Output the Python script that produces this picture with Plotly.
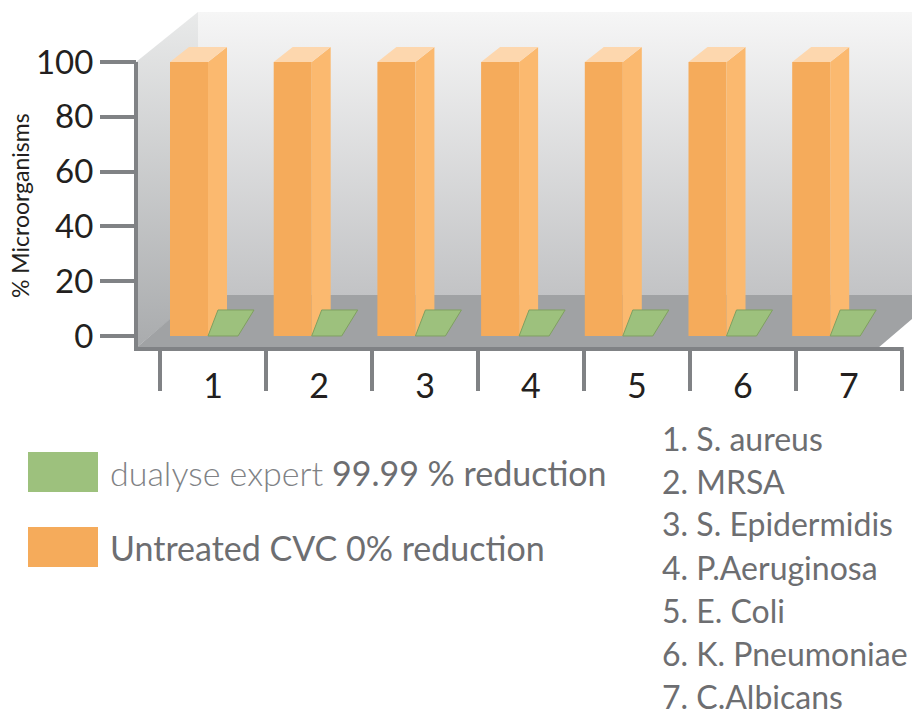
import numpy as np
import plotly.graph_objects as go

# ---------------- data ----------------
categories = ["1", "2", "3", "4", "5", "6", "7"]
organisms = ["1. S. aureus", "2. MRSA", "3. S. Epidermidis", "4. P.Aeruginosa",
             "5. E. Coli", "6. K. Pneumoniae", "7. C.Albicans"]
untreated = [100, 100, 100, 100, 100, 100, 100]
dualyse = [0.01, 0.01, 0.01, 0.01, 0.01, 0.01, 0.01]
y_ticks = [0, 20, 40, 60, 80, 100]
y_title = "% Microorganisms"

# ---------------- style / geometry ----------------
W, H = 912, 715
X_C1, X_STEP = 189.0, 103.7      # px of category 1 (bar centre) and px per category
Y_ZERO, Y_UNIT = 336.0, 2.74      # px of value 0 and px per unit
B0, B_STEP = 160.2, 105.93        # px of first divider and divider spacing (label axis)

ORANGE_FRONT = "#f5ab5b"
ORANGE_SIDE = "#fbb96f"
ORANGE_TOP = "#fdd7ae"
GREEN = "#9dc17d"
GREEN_EDGE = "#7fa060"
AXIS_GREY = "#808285"
TEXT_DARK = "#231f20"
TEXT_GREY = "#6d6e71"
FONT = "Lato, 'Open Sans', sans-serif"


def xd(px):
    return (px - X_C1) / X_STEP + 1


def yd(py):
    return (Y_ZERO - py) / Y_UNIT


def xp(px):
    return px / W


def yp(py):
    return (H - py) / H


def t2(px):
    return (px - B0) / B_STEP + 0.5


pos = np.arange(1, len(categories) + 1)

W_O = 38 / X_STEP          # orange bar width (data units)
DX_O, DY_O = 19 / X_STEP, 15 / Y_UNIT
W_G = 30 / X_STEP
DXL_G, DXR_G, DY_G = 10 / X_STEP, 16 / X_STEP, 26 / Y_UNIT

fig = go.Figure()


def poly(pxs, pys, colorscale=None, color=None):
    kw = dict(x=[xd(p) for p in pxs] + [xd(pxs[0])],
              y=[yd(p) for p in pys] + [yd(pys[0])],
              mode="lines", fill="toself", line=dict(width=0),
              hoverinfo="skip", showlegend=False)
    if colorscale:
        kw["fillgradient"] = dict(type="vertical", colorscale=colorscale)
    else:
        kw["fillcolor"] = color
    fig.add_trace(go.Scatter(**kw))


# back wall, side wall, floor
poly([198, 925, 925, 198], [12, 12, 296, 296], colorscale=[[0, "#c2c3c5"], [1, "#f6f6f6"]])
poly([136, 198, 198, 136], [62, 12, 296, 348], colorscale=[[0, "#a9abad"], [1, "#e9eaea"]])
poly([136, 198, 925, 925, 878], [348, 295, 295, 308, 348], color="#a0a2a4")

# orange bars: front, side and top faces built from the values
fx, fy, sx, sy, tx, ty = [], [], [], [], [], []
for p, v in zip(pos, untreated):
    xl, xr = p - W_O / 2, p + W_O / 2
    fx += [xl, xl, xr, xr, xl, None]
    fy += [0, v, v, 0, 0, None]
    sx += [xr, xr, xr + DX_O, xr + DX_O, xr, None]
    sy += [0, v, v + DY_O, DY_O, 0, None]
    tx += [xl, xl + DX_O, xr + DX_O, xr, xl, None]
    ty += [v, v + DY_O, v + DY_O, v, v, None]
for xs, ys, col in ((fx, fy, ORANGE_FRONT), (sx, sy, ORANGE_SIDE), (tx, ty, ORANGE_TOP)):
    fig.add_trace(go.Scatter(x=xs, y=ys, mode="lines", fill="toself", fillcolor=col,
                             line=dict(width=0), hoverinfo="skip", showlegend=False))

# green (near-zero) bars, only their top faces show
gx, gy = [], []
for p, v in zip(pos, dualyse):
    xl = p + W_O / 2
    gx += [xl, xl + W_G, xl + W_G + DXR_G, xl + DXL_G, xl, None]
    gy += [v, v, v + DY_G, v + DY_G, v, None]
fig.add_trace(go.Scatter(x=gx, y=gy, mode="lines", fill="toself", fillcolor=GREEN,
                         line=dict(width=1, color=GREEN_EDGE), hoverinfo="skip",
                         showlegend=False))

# dummy on the label axis so it renders
fig.add_trace(go.Scatter(x=[1], y=[0], xaxis="x2", mode="markers",
                         marker=dict(opacity=0), hoverinfo="skip", showlegend=False))

shapes = [
    dict(type="line", xref="paper", yref="paper", x0=xp(136), x1=xp(136), y0=yp(62), y1=yp(350),
         line=dict(color=AXIS_GREY, width=4)),
    dict(type="line", xref="paper", yref="paper", x0=xp(134), x1=xp(B0 + 7 * B_STEP + 2),
         y0=yp(349), y1=yp(349), line=dict(color=AXIS_GREY, width=4)),
    dict(type="rect", xref="paper", yref="paper", x0=xp(28), x1=xp(98), y0=yp(452), y1=yp(492),
         fillcolor=GREEN, line=dict(width=0)),
    dict(type="rect", xref="paper", yref="paper", x0=xp(28), x1=xp(98), y0=yp(527), y1=yp(567),
         fillcolor=ORANGE_FRONT, line=dict(width=0)),
]

annotations = [
    dict(text=y_title, xref="paper", yref="paper", x=xp(20), y=yp(206), textangle=-90,
         xanchor="center", yanchor="middle",
         showarrow=False, font=dict(size=23, color=TEXT_DARK, family=FONT)),
    dict(text="<span style='font-weight:300;color:#808285'>dualyse expert</span> 99.99 % reduction",
         xref="paper", yref="paper", x=xp(108), y=yp(472), xanchor="left", yanchor="middle",
         showarrow=False, font=dict(size=34, color=TEXT_GREY, family=FONT)),
    dict(text="Untreated CVC 0% reduction",
         xref="paper", yref="paper", x=xp(108), y=yp(547), xanchor="left", yanchor="middle",
         showarrow=False, font=dict(size=34, color=TEXT_GREY, family=FONT)),
]
for i, name in enumerate(organisms):
    annotations.append(dict(text=name, xref="paper", yref="paper", x=xp(660), y=yp(438 + 43 * i),
                            xanchor="left", yanchor="middle", showarrow=False,
                            font=dict(size=32, color=TEXT_GREY, family=FONT)))

boundaries = list(np.arange(0.5, len(categories) + 1, 1.0))

fig.update_layout(
    width=W, height=H, margin=dict(l=0, r=0, t=0, b=0),
    paper_bgcolor="white", plot_bgcolor="white",
    showlegend=False, hovermode=False, font=dict(family=FONT),
    xaxis=dict(range=[xd(0), xd(W)], showgrid=False, zeroline=False, showline=False,
               showticklabels=False, ticks="", fixedrange=True),
    xaxis2=dict(overlaying="x", anchor="free", position=yp(349), range=[t2(0), t2(W)],
                tickmode="array", tickvals=list(pos), ticktext=categories,
                ticks="outside", ticklen=7, tickcolor="rgba(0,0,0,0)",
                tickfont=dict(size=34, color=TEXT_DARK, family=FONT),
                minor=dict(tickmode="array", tickvals=boundaries, ticks="outside",
                           ticklen=41, tickwidth=4, tickcolor=AXIS_GREY, showgrid=False),
                showgrid=False, zeroline=False, showline=False, fixedrange=True),
    yaxis=dict(range=[yd(H), yd(0)], anchor="free", position=xp(136),
               tickmode="array", tickvals=y_ticks, ticks="outside", ticklen=36,
               tickwidth=3.5, tickcolor=AXIS_GREY,
               tickfont=dict(size=33, color=TEXT_DARK, family=FONT),
               showgrid=False, zeroline=False, showline=False, fixedrange=True),
    shapes=shapes, annotations=annotations,
)

fig.write_html("out.html", config={"displayModeBar": False},
               post_script="document.body.style.margin='0';")
